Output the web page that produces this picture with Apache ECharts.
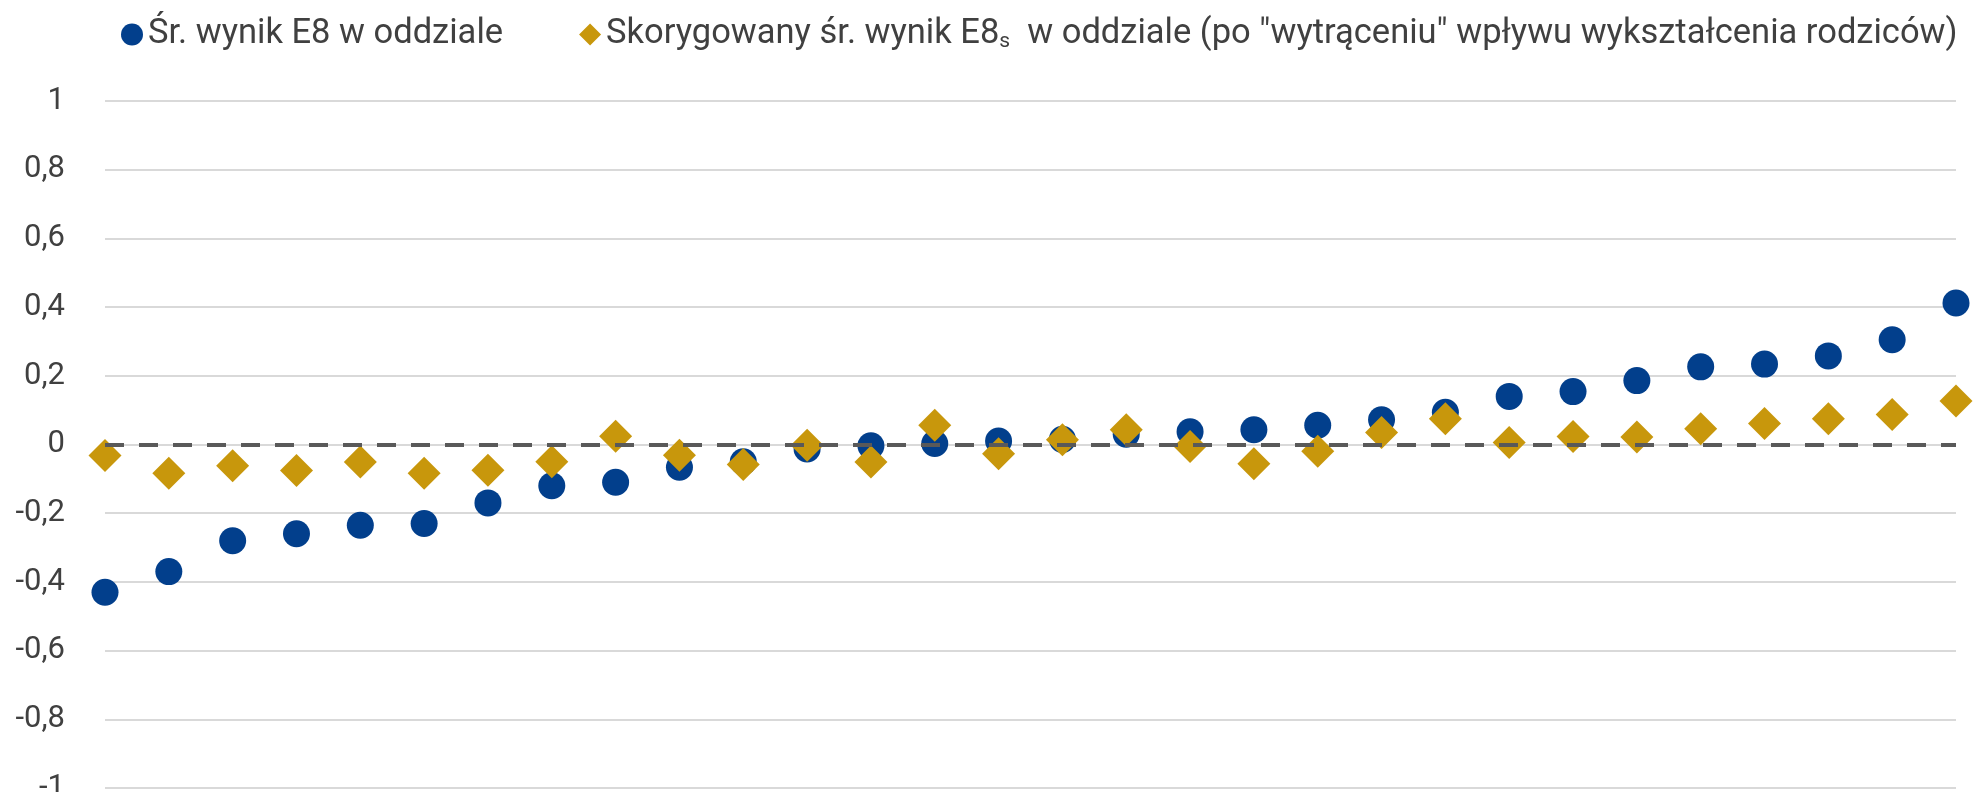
<!DOCTYPE html>
<html>
<head>
<meta charset="utf-8">
<script src="https://cdn.jsdelivr.net/npm/echarts@6/dist/echarts.min.js"></script>
<style>
html, body { margin: 0; padding: 0; background: #fff; }
#chart { width: 1986px; height: 792px; }
</style>
</head>
<body>
<div id="chart"></div>
<script>
// 30 oddziałów, posortowane wg średniego wyniku E8
var categories = [];
for (var i = 1; i <= 30; i++) categories.push(String(i));

var wynikE8 = [-0.43, -0.37, -0.28, -0.26, -0.235, -0.23, -0.17, -0.12, -0.11, -0.066,
  -0.05, -0.013, -0.004, 0.003, 0.01, 0.015, 0.03, 0.037, 0.043, 0.056,
  0.072, 0.094, 0.14, 0.154, 0.186, 0.226, 0.234, 0.258, 0.305, 0.412];

var wynikE8s = [-0.032, -0.084, -0.062, -0.076, -0.051, -0.084, -0.075, -0.05, 0.024, -0.031,
  -0.058, -0.002, -0.051, 0.056, -0.027, 0.014, 0.043, -0.006, -0.056, -0.02,
  0.035, 0.075, 0.006, 0.023, 0.022, 0.046, 0.061, 0.075, 0.087, 0.127];

var yTicks = { min: -1, max: 1, step: 0.2 };

var blue = '#023F8C';
var gold = '#C8970C';

var myChart = echarts.init(document.getElementById('chart'));
var option = {
  animation: false,
  textStyle: { fontFamily: 'Roboto' },
  legend: {
    top: 12,
    left: 116,
    itemWidth: 22,
    itemHeight: 22,
    itemGap: 76,
    textStyle: {
      fontSize: 34.5,
      color: '#404040',
      rich: {
        sub: { fontSize: 21, color: '#404040', padding: [14, 0, 0, 0] }
      }
    },
    data: [
      { name: 'Śr. wynik E8 w oddziale', icon: 'circle' },
      { name: 'Skorygowany', icon: 'diamond' }
    ],
    formatter: function (name) {
      if (name === 'Skorygowany') {
        return 'Skorygowany śr. wynik E8{sub|s}  w oddziale (po "wytrąceniu" wpływu wykształcenia rodziców)';
      }
      return name;
    }
  },
  grid: { left: 105, right: 30, top: 101, bottom: 4, outerBoundsMode: 'none' },
  xAxis: {
    type: 'category',
    data: categories,
    boundaryGap: false,
    axisLine: { show: false },
    axisTick: { show: false },
    axisLabel: { show: false },
    splitLine: { show: false }
  },
  yAxis: {
    type: 'value',
    min: yTicks.min,
    max: yTicks.max,
    interval: yTicks.step,
    axisLine: { show: false },
    axisTick: { show: false },
    axisLabel: {
      fontSize: 31,
      color: '#404040',
      margin: 40,
      formatter: function (v) {
        return String(Math.round(v * 10) / 10).replace('.', ',');
      }
    },
    splitLine: { lineStyle: { color: '#d9d9d9', width: 2 } }
  },
  series: [
    {
      name: 'Śr. wynik E8 w oddziale',
      type: 'scatter',
      symbol: 'circle',
      symbolSize: 27,
      itemStyle: { color: blue, opacity: 1 },
      data: wynikE8,
      z: 3,
      markLine: {
        silent: true,
        symbol: 'none',
        label: { show: false },
        lineStyle: { color: '#595959', width: 4, type: [19, 15] },
        data: [{ yAxis: 0 }]
      }
    },
    {
      name: 'Skorygowany',
      type: 'scatter',
      symbol: 'diamond',
      symbolSize: 33,
      itemStyle: { color: gold, opacity: 1 },
      data: wynikE8s,
      z: 4
    }
  ]
};
myChart.setOption(option);
</script>
</body>
</html>
